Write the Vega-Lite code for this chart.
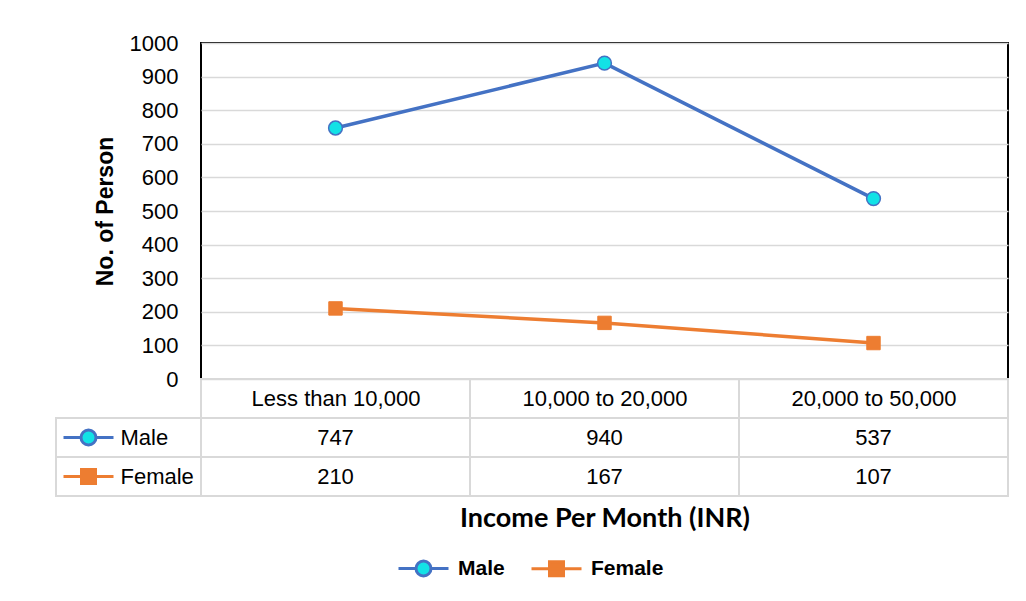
{
  "$schema": "https://vega.github.io/schema/vega-lite/v6.json",
  "padding": {"left": 55, "top": 31, "right": 5, "bottom": 5},
  "background": "white",
  "datasets": {
    "income": [
      {"category": "Less than 10,000", "series": "Male", "value": 747},
      {"category": "10,000 to 20,000", "series": "Male", "value": 940},
      {"category": "20,000 to 50,000", "series": "Male", "value": 537},
      {"category": "Less than 10,000", "series": "Female", "value": 210},
      {"category": "10,000 to 20,000", "series": "Female", "value": 167},
      {"category": "20,000 to 50,000", "series": "Female", "value": 107}
    ]
  },
  "data": {"name": "income"},
  "columns": 2,
  "spacing": 0,
  "bounds": "flush",
  "resolve": {"scale": {"x": "independent", "y": "independent"}},
  "concat": [
    {
      "width": 145,
      "height": 336,
      "mark": {"type": "text"},
      "encoding": {"text": {"value": ""}}
    },
    {
      "width": 807,
      "height": 336,
      "view": {"stroke": "black", "strokeWidth": 2},
      "encoding": {
        "x": {
          "field": "category", "type": "nominal", "sort": null,
          "scale": {"type": "point", "domain": ["Less than 10,000", "10,000 to 20,000", "20,000 to 50,000"], "padding": 0.5},
          "axis": {"title": null, "labelAngle": 0, "domain": false, "ticks": false, "grid": false, "labelPadding": 19, "labelBaseline": "middle", "labelFont": "Liberation Sans", "labelFontSize": 22, "labelColor": "black"}
        },
        "y": {
          "field": "value", "type": "quantitative",
          "scale": {"domain": [0, 1000]},
          "axis": {"title": "No. of Person", "format": "d", "values": [0, 100, 200, 300, 400, 500, 600, 700, 800, 900, 1000], "domain": false, "ticks": false, "grid": true, "gridColor": "#d9d9d9", "gridWidth": 1.5, "labelPadding": 23, "labelFont": "Liberation Sans", "labelFontSize": 22, "labelColor": "black", "titleFont": "Liberation Sans", "titleFontSize": 23, "titleFontWeight": "bold", "titleColor": "black", "titlePadding": 12}
        }
      },
      "layer": [
        {"transform": [{"filter": "datum.series === 'Male'"}], "mark": {"type": "line", "stroke": "#4472C4", "strokeWidth": 3.5}},
        {"transform": [{"filter": "datum.series === 'Female'"}], "mark": {"type": "line", "stroke": "#ED7D31", "strokeWidth": 3.5}},
        {"transform": [{"filter": "datum.series === 'Male'"}], "mark": {"type": "point", "shape": "circle", "filled": true, "fill": "#12E2E6", "stroke": "#4472C4", "strokeWidth": 1.5, "size": 190, "opacity": 1}},
        {"transform": [{"filter": "datum.series === 'Female'"}], "mark": {"type": "point", "shape": "square", "filled": true, "fill": "#ED7D31", "stroke": "#ED7D31", "strokeWidth": 1, "size": 180, "opacity": 1}}
      ]
    },
    {
      "width": 145,
      "height": 117,
      "transform": [{"filter": "datum.category === 'Less than 10,000'"}],
      "encoding": {
        "y": {"field": "series", "type": "nominal", "scale": {"type": "band", "domain": ["hdr", "Male", "Female"], "paddingInner": 0, "paddingOuter": 0}, "axis": null}
      },
      "layer": [
        {"mark": {"type": "rect", "filled": false, "stroke": "#d9d9d9", "strokeWidth": 2}},
        {
          "mark": {"type": "point", "size": 2500, "strokeWidth": 3, "opacity": 1, "xOffset": -40},
          "encoding": {
            "shape": {"field": "series", "type": "nominal", "title": null,
              "scale": {"domain": ["Male", "Female"], "range": ["M-1,0L-0.3,0M0.3,0L1,0M0.3,0A0.3,0.3,0,1,1,-0.3,0A0.3,0.3,0,1,1,0.3,0Z", "M-1,0L1,0M-0.28,-0.28L0.28,-0.28L0.28,0.28L-0.28,0.28Z"]},
              "legend": {"orient": "none", "legendX": 341, "legendY": 499, "direction": "horizontal"}},
            "fill": {"field": "series", "type": "nominal", "title": null,
              "scale": {"domain": ["Male", "Female"], "range": ["#12E2E6", "#ED7D31"]},
              "legend": {"orient": "none", "legendX": 341, "legendY": 499, "direction": "horizontal"}},
            "stroke": {"field": "series", "type": "nominal", "title": null,
              "scale": {"domain": ["Male", "Female"], "range": ["#4472C4", "#ED7D31"]},
              "legend": {"orient": "none", "legendX": 341, "legendY": 499, "direction": "horizontal"}}
          }
        },
        {
          "mark": {"type": "text", "align": "left", "baseline": "middle", "dx": -8, "font": "Liberation Sans", "fontSize": 22, "color": "black"},
          "encoding": {"text": {"field": "series", "type": "nominal"}}
        }
      ]
    },
    {
      "width": 807,
      "height": 117,
      "encoding": {
        "x": {
          "field": "category", "type": "nominal", "sort": null,
          "scale": {"type": "band", "domain": ["Less than 10,000", "10,000 to 20,000", "20,000 to 50,000"], "paddingInner": 0, "paddingOuter": 0},
          "axis": {"title": "Income Per Month (INR)", "labels": false, "ticks": false, "domain": false, "grid": false, "titleFont": "Lato", "titleFontSize": 27, "titleFontWeight": "bold", "titleColor": "black", "titlePadding": 9}
        },
        "y": {"field": "series", "type": "nominal", "scale": {"type": "band", "domain": ["hdr", "Male", "Female"], "paddingInner": 0, "paddingOuter": 0}, "axis": null}
      },
      "layer": [
        {"mark": {"type": "rect", "filled": false, "stroke": "#d9d9d9", "strokeWidth": 2}},
        {"transform": [{"filter": "datum.series === 'Male'"}], "mark": {"type": "rect", "filled": false, "stroke": "#d9d9d9", "strokeWidth": 2}, "encoding": {"y": {"datum": "hdr"}}},
        {"mark": {"type": "text", "baseline": "middle", "font": "Liberation Sans", "fontSize": 22, "color": "black"}, "encoding": {"text": {"field": "value", "type": "quantitative"}}}
      ]
    }
  ],
  "config": {
    "view": {"stroke": null},
    "legend": {"labelFont": "Liberation Sans", "labelFontWeight": "bold", "labelFontSize": 21, "labelColor": "black", "symbolSize": 2500, "symbolStrokeWidth": 3, "labelOffset": 8, "columnPadding": 20, "padding": 0, "symbolOpacity": 1}
  }
}
